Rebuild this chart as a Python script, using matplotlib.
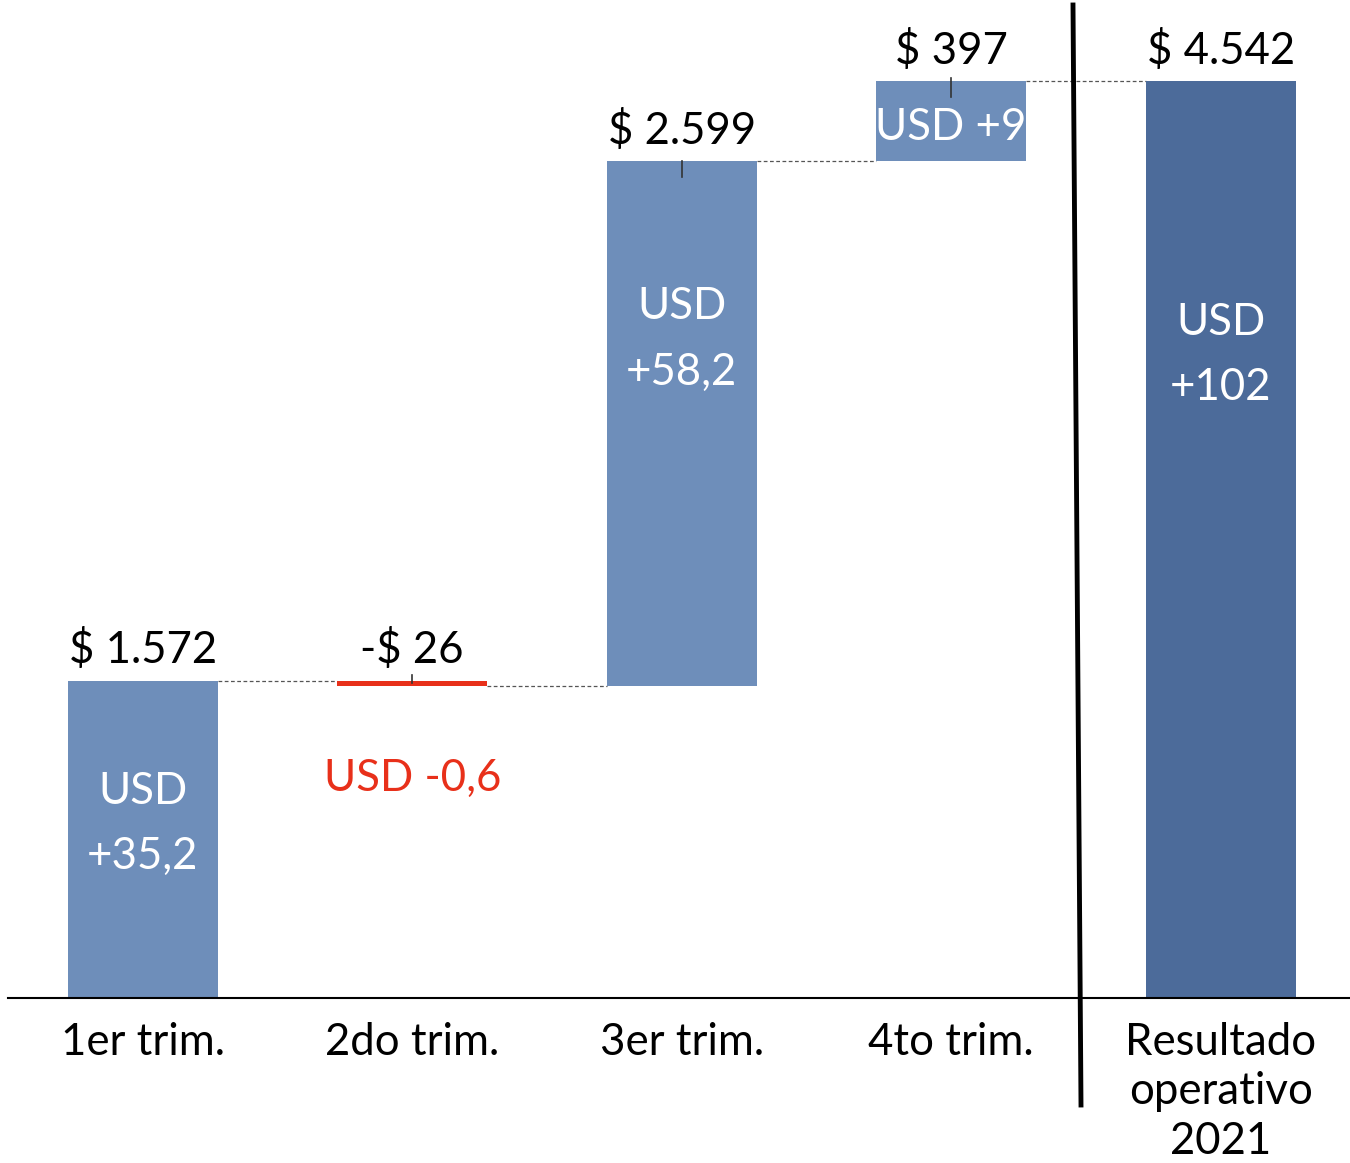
import numpy as np
import matplotlib.pyplot as plt
from matplotlib.lines import Line2D

plt.rcParams['font.family'] = ['Lato', 'DejaVu Sans']

categories = ['1er trim.', '2do trim.', '3er trim.', '4to trim.', 'Resultado\noperativo\n2021']
deltas = [1572, -26, 2599, 397]
total = 4542
value_labels = ['$ 1.572', '-$ 26', '$ 2.599', '$ 397', '$ 4.542']
usd_labels = ['USD\n+35,2', 'USD -0,6', 'USD\n+58,2', 'USD +9', 'USD\n+102']

c_up = '#6E8EBA'
c_down = '#E8301A'
c_total = '#4C6B9A'
fs = 31.5

fig = plt.figure(figsize=(13.5, 11.63), dpi=100)
ax = fig.add_axes([8 / 1350, 165 / 1163, 1342 / 1350, 998 / 1163])

x = np.arange(len(categories))
w = 0.557
ends = np.cumsum(deltas)
starts = ends - np.array(deltas)

# steps
for i, d in enumerate(deltas):
    col = c_up if d >= 0 else c_down
    ax.bar(x[i], d, bottom=starts[i], width=w, color=col, zorder=2)
ax.bar(x[-1], total, width=w, color=c_total, zorder=2)

# connectors
for i in range(len(deltas)):
    ax.plot([x[i] + w / 2, x[i + 1] - w / 2], [ends[i], ends[i]],
            ls=(0, (3, 2)), color='#555555', lw=0.9, zorder=1)

# small ticks at bar tops
tick_span = {1: (30, -10), 2: (0, -80), 3: (15, -80)}
for i, (up, dn) in tick_span.items():
    top = max(starts[i], ends[i])
    ax.plot([x[i], x[i]], [top + up, top + dn], color='#333333', lw=1.2, zorder=3)

# value labels on top
tops = [max(s, e) for s, e in zip(starts, ends)] + [total]
for i, lab in enumerate(value_labels):
    ax.text(x[i], tops[i] + 150, lab, ha='center', va='center', fontsize=fs, color='black')

# USD labels
usd_y = [862, 1085, 3262, 4310, 3185]
for i, lab in enumerate(usd_labels):
    col = c_down if i < 4 and deltas[i] < 0 else 'white'
    ax.text(x[i], usd_y[i], lab, ha='center', va='center', fontsize=fs,
            color=col, linespacing=1.75, zorder=4)

ax.set_xlim(-0.5, 4.48)
ax.set_ylim(0, 4943)
ax.set_xticks(x)
ax.set_xticklabels(categories, fontsize=fs, linespacing=1.26)
ax.tick_params(axis='x', length=0, pad=17)
ax.set_yticks([])
for s in ['left', 'right', 'top']:
    ax.spines[s].set_visible(False)
ax.spines['bottom'].set_linewidth(1.5)

# separator line
fig.add_artist(Line2D([1073 / 1350, 1081 / 1350], [1 - 5 / 1163, 1 - 1105 / 1163],
                      color='black', lw=3.5, transform=fig.transFigure))

fig.savefig('out.png', dpi=100)
